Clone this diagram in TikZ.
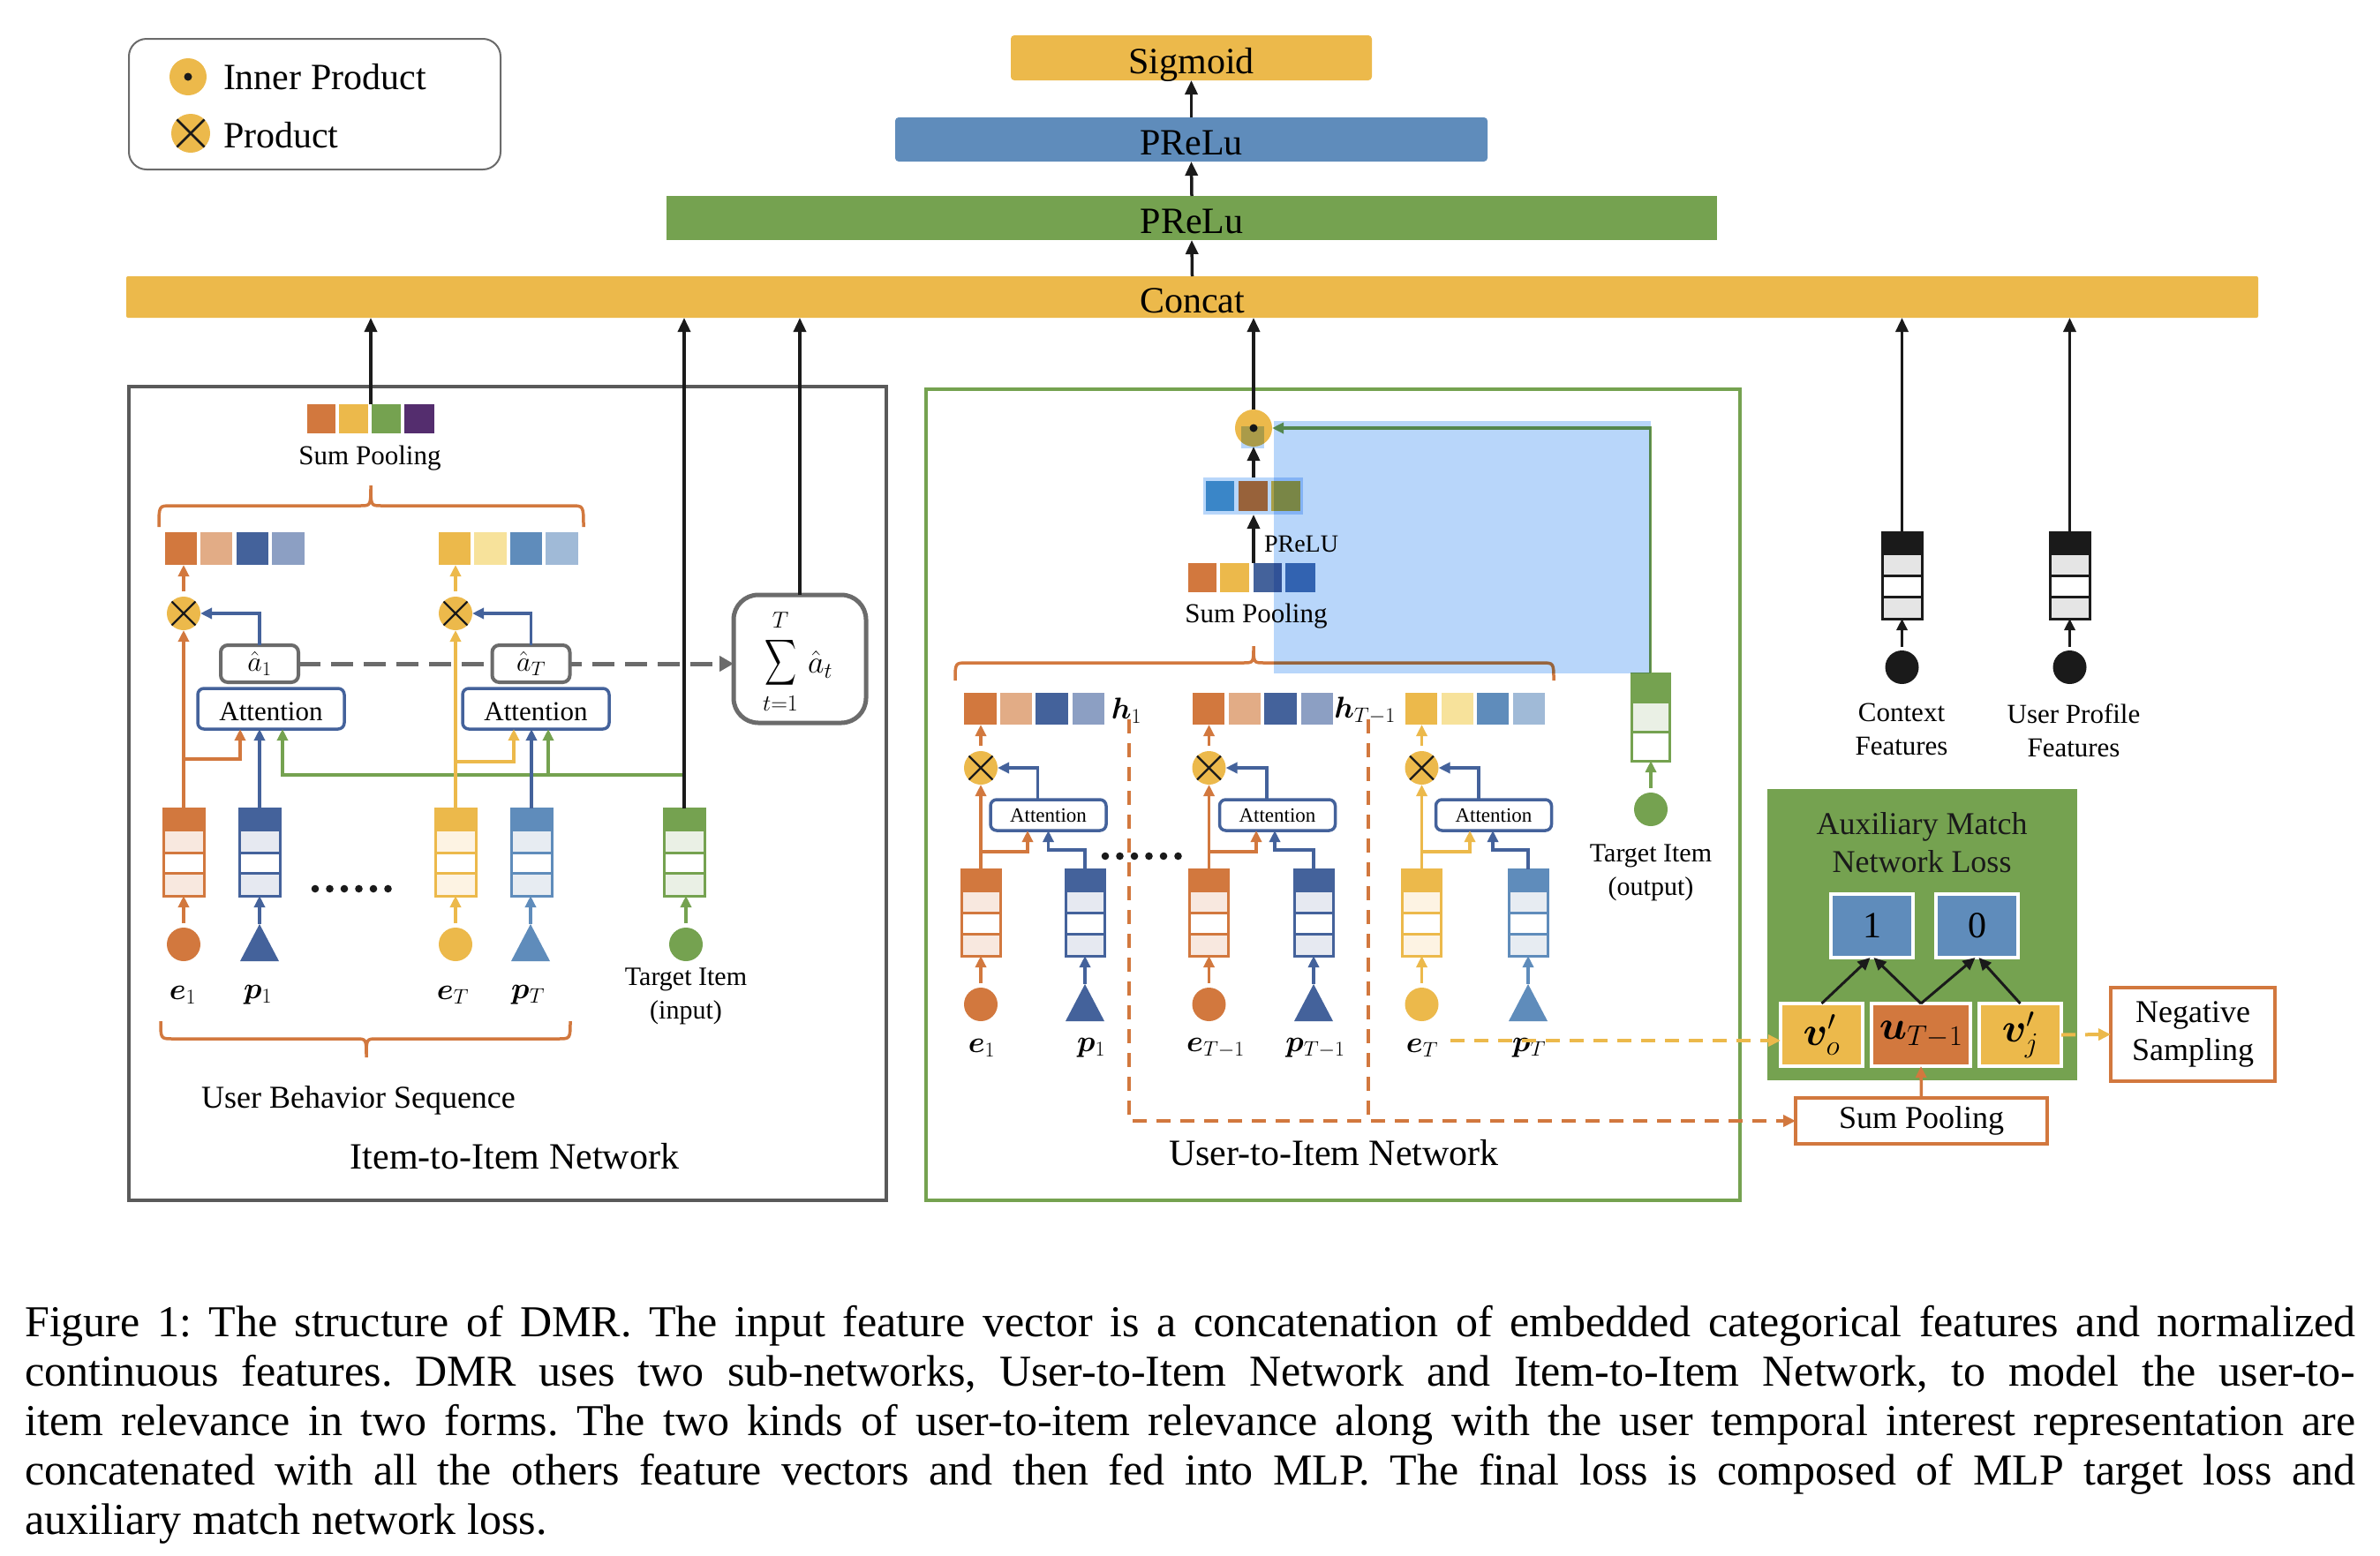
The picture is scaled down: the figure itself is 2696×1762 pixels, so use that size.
\RequirePackage{fix-cm}
\documentclass[tikz,border=0pt]{standalone}
\usepackage{exscale}
\usepackage{fontspec}
\setmainfont{Liberation Serif}
\usepackage{bm}
\usetikzlibrary{arrows.meta,calc}
\definecolor{cOr}{HTML}{D2783E}
\definecolor{cOrL}{HTML}{E2AC86}
\definecolor{cOrX}{HTML}{F8E8DF}
\definecolor{cYe}{HTML}{ECB94B}
\definecolor{cYeL}{HTML}{F7E29B}
\definecolor{cYeX}{HTML}{FDF3E3}
\definecolor{cGr}{HTML}{75A250}
\definecolor{cGrX}{HTML}{EAF0E5}
\definecolor{cBd}{HTML}{44629B}
\definecolor{cBdL}{HTML}{8C9FC3}
\definecolor{cBdX}{HTML}{E6E9F1}
\definecolor{cBm}{HTML}{5F8CBB}
\definecolor{cBmL}{HTML}{A0BAD7}
\definecolor{cBmX}{HTML}{E7ECF2}
\definecolor{cB2}{HTML}{4676B5}
\definecolor{cPu}{HTML}{542D6E}
\definecolor{cGy}{HTML}{6B6B6B}
\definecolor{cFr}{HTML}{5A5A5A}
\definecolor{cBk}{HTML}{1A1A1A}
\definecolor{cGyX}{HTML}{E5E5E5}
\definecolor{cHi}{HTML}{B8D6FA}
\definecolor{cV1}{HTML}{3A86C8}
\definecolor{cV2}{HTML}{98623A}
\definecolor{cV3}{HTML}{A9A048}
\newcommand\DMRfs[2]{\fontsize{#1}{#2}\selectfont}
% vector column: name, cx, ytop, colour, light, width, height
\newcommand\DMRvec[7]{%
 \node[minimum width=#6, minimum height=#7, anchor=north] (#1) at (#2,#3) {};
 \fill[#5] (#1.north west) rectangle (#1.south east);
 \fill[white] ($(#1.north west)!0.505!(#1.south west)$) rectangle ($(#1.north east)!0.747!(#1.south east)$);
 \fill[#4] (#1.north west) rectangle ($(#1.north east)!0.263!(#1.south east)$);
 \draw[#4, line width=3pt] ($(#1.north west)!0.505!(#1.south west)$) -- ($(#1.north east)!0.505!(#1.south east)$)
   ($(#1.north west)!0.747!(#1.south west)$) -- ($(#1.north east)!0.747!(#1.south east)$)
   (#1.north west) rectangle (#1.south east);
}
\newcommand\DMRtri[4]{\coordinate (#1) at (#2,#3); \fill[#4] (#1) -- ++(22,42) -- ++(-44,0) -- cycle;}
\newcommand\DMRprod[3]{\node[circle, fill=cYe, minimum size=38] (#1) at (#2,#3) {};
 \draw[line width=2.2pt, cBk] (#1.north west) -- (#1.south east) (#1.north east) -- (#1.south west);}
% brace: x1, x2, xtip, yend, yline, ytip
\newcommand\DMRbrace[6]{%
 \draw[cOr, line width=3.5pt] (#1,#4) .. controls (#1,#5) .. (#1+14,#5) -- (#3-12,#5) .. controls (#3,#5) .. (#3,#6)
   (#3,#6) .. controls (#3,#5) .. (#3+12,#5) -- (#2-14,#5) .. controls (#2,#5) .. (#2,#4);}
\frenchspacing
\begin{document}
\begin{tikzpicture}[x=1pt,y=-1pt,
  every node/.style={inner sep=0pt, outer sep=0pt},
  ln/.style={line width=3.5pt},
  carr/.style={line width=3.5pt, -{Triangle[length=13pt,width=12pt]}},
  barr/.style={line width=3.5pt, cBk, -{Triangle[length=16pt,width=14pt]}},
  barr2/.style={line width=3pt, cBk, -{Triangle[length=14pt,width=13pt]}},
  dsh/.style={line width=4pt, dash pattern=on 16pt off 11pt},
  att/.style={draw=cBd, line width=3.5pt, rounded corners=7pt, fill=white},
  ahat/.style={draw=cGy, line width=4pt, rounded corners=8pt, fill=white, minimum width=88, minimum height=42, font=\DMRfs{32}{36}},
  bar/.style={rounded corners=4pt, font=\DMRfs{42}{48}, text height=35pt, text depth=0pt},
  lab/.style={font=\DMRfs{34}{40}}]
\useasboundingbox (0,0) rectangle (2696,1762);
\fill[white] (0,0) rectangle (2696,1762);

% ---------- legend
\node[draw=cGy, line width=2pt, rounded corners=20pt, minimum width=421, minimum height=148] (legend) at (356.5,118) {};
\node[circle, fill=cYe, minimum size=42] (lip) at (213,87) {};
\fill[cBk] (lip) circle (4.5);
\node[anchor=base west, font=\DMRfs{42}{48}] (lipt) at (253,101) {Inner Product};
\node[circle, fill=cYe, minimum size=44] (lpr) at (216,151) {};
\draw[line width=2.5pt, cBk] (lpr.north west) -- (lpr.south east) (lpr.north east) -- (lpr.south west);
\node[anchor=base west, font=\DMRfs{42}{48}] (lprt) at (253,167) {Product};

% ---------- top MLP
\node[bar, fill=cYe, minimum width=409, minimum height=51] (sig) at (1349.5,65.5) {Sigmoid};
\node[bar, fill=cBm, minimum width=671, minimum height=50] (prl1) at (1349.5,158) {PReLu};
\node[bar, fill=cGr, minimum width=1190, minimum height=50, rounded corners=0pt] (prl2) at (1350,247) {PReLu};
\node[bar, fill=cYe, minimum width=2415, minimum height=47, rounded corners=2pt] (concat) at (1350.5,336.5) {Concat};
\draw[barr] (concat.north) -- (prl2.south);
\draw[barr] (prl2.north) -- (prl1.south);
\draw[barr] (prl1.north) -- (sig.south);

% ---------- frames
\node[draw=cFr, line width=4.5pt, minimum width=858, minimum height=922] (i2i) at (575,899) {};
\node[draw=cGr, line width=4pt, minimum width=922, minimum height=919] (u2i) at (1510,900.5) {};

% ================= Item-to-Item network
\DMRvec{ie1v}{208}{916}{cOr}{cOrX}{46}{99}
\DMRvec{ip1v}{294}{916}{cBd}{cBdX}{46}{99}
\DMRvec{ieTv}{516}{916}{cYe}{cYeX}{46}{99}
\DMRvec{ipTv}{602}{916}{cBm}{cBmX}{46}{99}
\DMRvec{itgv}{775}{916}{cGr}{cGrX}{46}{99}
\node[circle, fill=cOr, minimum size=38] (ie1c) at (208,1070) {};
\DMRtri{ip1t}{294}{1047}{cBd}
\node[circle, fill=cYe, minimum size=38] (ieTc) at (516,1070) {};
\DMRtri{ipTt}{601}{1047}{cBm}
\node[circle, fill=cGr, minimum size=38] (itgc) at (777,1070) {};
\draw[carr, cOr, shorten <=5pt] (ie1c.north) -- (ie1v.south);
\draw[carr, cBd] (ip1t) -- (ip1t |- ip1v.south);
\draw[carr, cYe, shorten <=5pt] (ieTc.north) -- (ieTv.south);
\draw[carr, cBm] (ipTt) -- (ipTt |- ipTv.south);
\draw[carr, cGr, shorten <=5pt] (itgc.north) -- (itgc.north |- itgv.south);
\node[lab] (ie1l) at (207,1127) {$\bm{e}_1$};
\node[lab] (ip1l) at (292,1127) {$\bm{p}_1$};
\node[lab] (ieTl) at (513,1127) {$\bm{e}_T$};
\node[lab] (ipTl) at (598,1127) {$\bm{p}_T$};
\node[font=\DMRfs{30}{38}, align=center] (itgl) at (777,1129) {Target Item\\(input)};
\foreach \i in {0,...,5} \fill[cBk] (357+\i*16.5,1007) circle (4.3);

\node[att, minimum width=166, minimum height=46, font=\DMRfs{31}{36}, text height=27pt, text depth=0pt] (iatt1) at (307,803) {Attention};
\node[att, minimum width=166, minimum height=46, font=\DMRfs{31}{36}, text height=27pt, text depth=0pt] (iatt2) at (607,803) {Attention};
\node[draw=cGy, line width=5pt, rounded corners=28pt, minimum width=150, minimum height=145] (isum) at (906,746.5) {};
\node (isig) at (884,751) {\resizebox*{36pt}{58pt}{$\displaystyle\sum$}};
\node[font=\DMRfs{26}{30}] (isT) at (884,703) {$T$};
\node[font=\DMRfs{26}{30}] (ist) at (884,797) {$t{=}1$};
\node[font=\DMRfs{36}{40}] (isa) at (929,753) {$\hat{a}_t$};
\node[ahat] (ia1) at (294,752) {$\hat{a}_1$};
\draw[cGy, line width=5pt, dash pattern=on 25pt off 12pt, -{Triangle[length=16pt,width=17pt]}] (ia1.east) -- (ia1.east -| isum.west);
\node[ahat] (iaT) at (601.5,752) {$\hat{a}_T$};
\DMRprod{iprod1}{208}{695}
\DMRprod{iprod2}{516}{695}

\fill[cOr] (187,603) rectangle (223,640); \fill[cOrL] (227,603) rectangle (263,640);
\fill[cBd] (268,603) rectangle (304,640); \fill[cBdL] (308,603) rectangle (345,640);
\fill[cYe] (497,603) rectangle (533,640); \fill[cYeL] (537,603) rectangle (574,640);
\fill[cBm] (578,603) rectangle (614,640); \fill[cBmL] (618,603) rectangle (655,640);
\coordinate (irowA) at (207,640);
\coordinate (irowB) at (515,640);

\draw[carr, cOr] (ie1v.north) -- (ie1v.north |- iprod1.south);
\draw[carr, cOr, shorten <=6pt] (iprod1.north) -- (iprod1.north |- irowA);
\draw[carr, cOr] (208,860) -| ([xshift=-35pt]iatt1.south);
\draw[carr, cBd] (ip1v.north) -- (ip1v.north |- iatt1.south);
\coordinate (ig) at (775,878);
\coordinate (ig2) at (621,878);
\draw[carr, cGr] (ig) -| ([xshift=13pt]iatt1.south);
\draw[carr, cGr] (ig2) -- (ig2 |- iatt2.south);
\draw[carr, cYe] (ieTv.north) -- (ieTv.north |- iprod2.south);
\draw[carr, cYe, shorten <=6pt] (iprod2.north) -- (iprod2.north |- irowB);
\draw[carr, cYe] (516,863) -| ([xshift=-25pt]iatt2.south);
\draw[carr, cBd] (ipTv.north) -- (ipTv.north |- iatt2.south);
\draw[carr, cBd] (ia1.north) |- (iprod1.east);
\draw[carr, cBd] (iaT.north) |- (iprod2.east);

\draw[barr] (itgv.north) -- (itgv.north |- concat.south);
\draw[barr] (isum.north) -- (isum.north |- concat.south);
\fill[cOr] (348,458) rectangle (380,491); \fill[cYe] (384,458) rectangle (417,491);
\fill[cGr] (421,458) rectangle (454,491); \fill[cPu] (458,458) rectangle (492,491);
\coordinate (ispT) at (420,458);
\draw[barr] (ispT) -- (ispT |- concat.south);
\node[font=\DMRfs{31}{36}] (ispl) at (419,519) {Sum Pooling};
\DMRbrace{180}{661}{420}{597}{573}{550}
\DMRbrace{182}{646}{415}{1157}{1177}{1198}
\node[font=\DMRfs{36}{40}] (iubs) at (406,1247) {User Behavior Sequence};
\node[font=\DMRfs{42}{48}] (ititle) at (583,1310) {Item-to-Item Network};

% ================= User-to-Item network
\DMRvec{ue1v}{1111}{985}{cOr}{cOrX}{44}{98}
\DMRvec{up1v}{1229}{985}{cBd}{cBdX}{44}{98}
\DMRvec{ueTav}{1369.5}{985}{cOr}{cOrX}{44}{98}
\DMRvec{upTav}{1488}{985}{cBd}{cBdX}{44}{98}
\DMRvec{ueTv}{1610.5}{985}{cYe}{cYeX}{44}{98}
\DMRvec{upTv}{1731}{985}{cBm}{cBmX}{44}{98}
\node[circle, fill=cOr, minimum size=38] (ue1c) at (1111,1138) {};
\DMRtri{up1t}{1229}{1115}{cBd}
\node[circle, fill=cOr, minimum size=38] (ueTac) at (1369.5,1138) {};
\DMRtri{upTat}{1488}{1115}{cBd}
\node[circle, fill=cYe, minimum size=38] (ueTc) at (1610.5,1138) {};
\DMRtri{upTt}{1731}{1115}{cBm}
\draw[carr, cOr, shorten <=5pt] (ue1c.north) -- (ue1v.south);
\draw[carr, cBd] (up1t) -- (up1t |- up1v.south);
\draw[carr, cOr, shorten <=5pt] (ueTac.north) -- (ueTav.south);
\draw[carr, cBd] (upTat) -- (upTat |- upTav.south);
\draw[carr, cYe, shorten <=5pt] (ueTc.north) -- (ueTv.south);
\draw[carr, cBm] (upTt) -- (upTt |- upTv.south);
\node[lab] (ue1l) at (1112,1187) {$\bm{e}_1$};
\node[lab] (up1l) at (1236,1187) {$\bm{p}_1$};
\node[lab] (ueTal) at (1377,1187) {$\bm{e}_{T-1}$};
\node[lab] (upTal) at (1490,1187) {$\bm{p}_{T-1}$};
\node[lab] (ueTl) at (1611,1187) {$\bm{e}_T$};
\node[lab] (upTl) at (1732,1187) {$\bm{p}_T$};
\foreach \i in {0,...,5} \fill[cBk] (1252+\i*16.5,970) circle (4.3);

\node[att, minimum width=131, minimum height=35, font=\DMRfs{23}{28}] (uatt1) at (1187.5,923.5) {Attention};
\node[att, minimum width=131, minimum height=35, font=\DMRfs{23}{28}] (uatt2) at (1447,923.5) {Attention};
\node[att, minimum width=131, minimum height=35, font=\DMRfs{23}{28}] (uatt3) at (1692,923.5) {Attention};
\DMRprod{uprod1}{1111}{870}
\DMRprod{uprod2}{1369.5}{870}
\DMRprod{uprod3}{1610.5}{870}

\fill[cOr] (1092,785) rectangle (1129,821); \fill[cOrL] (1133,785) rectangle (1169,821);
\fill[cBd] (1173,785) rectangle (1210,821); \fill[cBdL] (1215,785) rectangle (1251,821);
\fill[cOr] (1351,785) rectangle (1387,821); \fill[cOrL] (1392,785) rectangle (1428,821);
\fill[cBd] (1432,785) rectangle (1469,821); \fill[cBdL] (1474,785) rectangle (1510,821);
\fill[cYe] (1592,785) rectangle (1628,821); \fill[cYeL] (1633,785) rectangle (1669,821);
\fill[cBm] (1673,785) rectangle (1709,821); \fill[cBmL] (1714,785) rectangle (1750,821);
\coordinate (urowA) at (1111,821);
\coordinate (urowB) at (1369.5,821);
\coordinate (urowC) at (1610.5,821);
\node[lab] (uh1) at (1276,805) {$\bm{h}_1$};
\node[lab] (uhT) at (1546,805) {$\bm{h}_{T-1}$};

\draw[carr, cOr] (ue1v.north) -- (ue1v.north |- uprod1.south);
\draw[carr, cOr] (1111,965) -| ([xshift=-23.5pt]uatt1.south);
\draw[carr, cBd] (up1v.north) |- ([yshift=-22pt]uatt1.south) -- (uatt1.south);
\draw[carr, cBd] ([xshift=-12pt]uatt1.north) |- (uprod1.east);
\draw[carr, cOr, shorten <=6pt] (uprod1.north) -- (uprod1.north |- urowA);

\draw[carr, cOr] (ueTav.north) -- (ueTav.north |- uprod2.south);
\draw[carr, cOr] (1369.5,965) -| ([xshift=-24pt]uatt2.south);
\draw[carr, cBd] (upTav.north) |- ([yshift=-22pt,xshift=-3pt]uatt2.south) -- ([xshift=-3pt]uatt2.south);
\draw[carr, cBd] ([xshift=-12pt]uatt2.north) |- (uprod2.east);
\draw[carr, cOr, shorten <=6pt] (uprod2.north) -- (uprod2.north |- urowB);

\draw[carr, cYe] (ueTv.north) -- (ueTv.north |- uprod3.south);
\draw[carr, cYe] (1610.5,965) -| ([xshift=-27pt]uatt3.south);
\draw[carr, cBd] (upTv.north) |- ([yshift=-22pt,xshift=-1pt]uatt3.south) -- ([xshift=-1pt]uatt3.south);
\draw[carr, cBd] ([xshift=-17pt]uatt3.north) |- (uprod3.east);
\draw[carr, cYe, shorten <=6pt] (uprod3.north) -- (uprod3.north |- urowC);

\DMRbrace{1082}{1760}{1420}{771}{751}{732}
\fill[cOr] (1346,638) rectangle (1378,671); \fill[cYe] (1382,638) rectangle (1415,671);
\fill[cBd] (1420,638) rectangle (1452,671); \fill[cB2] (1456,638) rectangle (1490,671);
\node[font=\DMRfs{31}{36}] (uspl) at (1423,698) {Sum Pooling};
\coordinate (uspT) at (1420,638);
\fill[cHi] (1363,541) rectangle (1476,583);
\fill[cV1] (1366,545) rectangle (1398,579); \fill[cV2] (1403,545) rectangle (1436,579);
\fill[cV3] (1440,545) rectangle (1473,579);
\coordinate (u3B) at (1420,583);
\coordinate (u3T) at (1420,541);
\draw[barr] (uspT) -- (u3B);
\node[font=\DMRfs{28}{32}, anchor=west] (uprelu) at (1432,616) {PReLU};
\node[circle, fill=cYe, minimum size=42] (uip) at (1420,485) {};
\fill[cBk] (uip) circle (4.5);
\draw[barr] (u3T) -- (uip.south);
\draw[barr] (uip.north) -- (uip.north |- concat.south);

% target (output)
\node[minimum width=43, minimum height=99, anchor=north] (utgv) at (1869.5,763) {};
\fill[cGrX] (utgv.north west) rectangle (utgv.south east);
\fill[white] (1848,829) rectangle (1891,862);
\fill[cGr] (utgv.north west) rectangle (1891,797);
\draw[cGr, line width=3pt] (1848,829) -- (1891,829) (utgv.north west) rectangle (utgv.south east);
\node[circle, fill=cGr, minimum size=38] (utgc) at (1870,917) {};
\draw[carr, cGr, shorten <=5pt] (utgc.north) -- (utgc.north |- utgv.south);
\draw[carr, cGr] (utgv.north) |- (uip.east);
\node[font=\DMRfs{30}{38}, align=center] (utgl) at (1870,989) {Target Item\\(output)};
\node[font=\DMRfs{42}{48}] (utitle) at (1511,1306) {User-to-Item Network};

% ================= right side
\DMRvec{ctxv}{2154.5}{603}{cBk}{cGyX}{45}{98}
\DMRvec{upfv}{2344.5}{603}{cBk}{cGyX}{45}{98}
\node[circle, fill=cBk, minimum size=38] (ctxc) at (2154.5,756) {};
\node[circle, fill=cBk, minimum size=38] (upfc) at (2344.5,756) {};
\draw[carr, cBk, shorten <=4pt] (ctxc.north) -- (ctxv.south);
\draw[carr, cBk, shorten <=4pt] (upfc.north) -- (upfv.south);
\draw[barr] (ctxv.north) -- (ctxv.north |- concat.south);
\draw[barr] (upfv.north) -- (upfv.north |- concat.south);
\node[font=\DMRfs{31}{38}, align=center] (ctxl) at (2154,826) {Context\\Features};
\node[font=\DMRfs{31}{38}, align=center] (upfl) at (2349,828) {User Profile\\Features};

\node[fill=cGr, minimum width=351, minimum height=330] (aux) at (2177.5,1059) {};
\node[font=\DMRfs{36}{43}, align=center, text=cBk] (auxl) at (2177,955) {Auxiliary Match\\Network Loss};
\node[draw=white, line width=4pt, fill=cBm, minimum width=93, minimum height=72, font=\DMRfs{42}{48}] (one) at (2120.5,1049) {1};
\node[draw=white, line width=4pt, fill=cBm, minimum width=93, minimum height=72, font=\DMRfs{42}{48}] (zero) at (2239.5,1049) {0};
\node[draw=white, line width=4pt, fill=cYe, minimum width=93, minimum height=71, font=\DMRfs{46}{50}] (vo) at (2063.5,1172.5) {$\bm{v}'_o$};
\node[draw=white, line width=4pt, fill=cOr, minimum width=112, minimum height=71, font=\DMRfs{46}{50}] (uT) at (2176,1172.5) {$\bm{u}_{T-1}$};
\node[draw=white, line width=4pt, fill=cYe, minimum width=93, minimum height=71, font=\DMRfs{46}{50}] (vj) at (2288.5,1172.5) {$\bm{v}'_j$};
\draw[barr2] (vo.north) -- ([xshift=-2pt]one.south);
\draw[barr2] (uT.north) -- ([xshift=2pt]one.south);
\draw[barr2] (uT.north) -- ([xshift=-2pt]zero.south);
\draw[barr2] (vj.north) -- ([xshift=2pt]zero.south);
\node[draw=cOr, line width=4.5pt, fill=white, minimum width=186, minimum height=106, font=\DMRfs{36}{43}, align=center] (neg) at (2484,1172) {Negative\\Sampling};
\draw[cYe, dsh, -{Triangle[length=14pt,width=13pt]}] (vj.east) -- (neg.west);
\node[draw=cOr, line width=4.5pt, fill=white, minimum width=285, minimum height=52, font=\DMRfs{36}{40}] (usp) at (2176.5,1270) {Sum Pooling};
\draw[carr, cOr] (usp.north) -- (uT.south);

% dashed connectors
\coordinate (udA) at (1279,815);
\coordinate (udB) at (1550,815);
\draw[cOr, dsh] (udB) -- (udB |- usp.west);
\draw[cOr, dsh, -{Triangle[length=14pt,width=13pt]}] (udA) |- (usp.west);
\coordinate (uyd) at (1643,1179);
\draw[cYe, dsh, -{Triangle[length=14pt,width=13pt]}] (uyd) -- (uyd -| vo.west);

% highlight overlay
\begin{scope}[blend mode=multiply]
\fill[cHi] (1443,477) rectangle (1870,763);
\fill[cHi] (1406,483) rectangle (1432,508);
\end{scope}

% ================= caption
\begin{scope}[every node/.style={anchor=base west, inner sep=0pt, font=\DMRfs{50}{57}}]
\node (cap1) at (28,1514) {\makebox[2640pt][s]{Figure 1: The structure of DMR. The input feature vector is a concatenation of embedded categorical features and normalized}};
\node (cap2) at (28,1570) {\makebox[2640pt][s]{continuous features. DMR uses two sub-networks, User-to-Item Network and Item-to-Item Network, to model the user-to-}};
\node (cap3) at (28,1626) {\makebox[2640pt][s]{item relevance in two forms. The two kinds of user-to-item relevance along with the user temporal interest representation are}};
\node (cap4) at (28,1682) {\makebox[2640pt][s]{concatenated with all the others feature vectors and then fed into MLP. The final loss is composed of MLP target loss and}};
\node (cap5) at (28,1738) {auxiliary match network loss.};
\end{scope}
\end{tikzpicture}
\end{document}
